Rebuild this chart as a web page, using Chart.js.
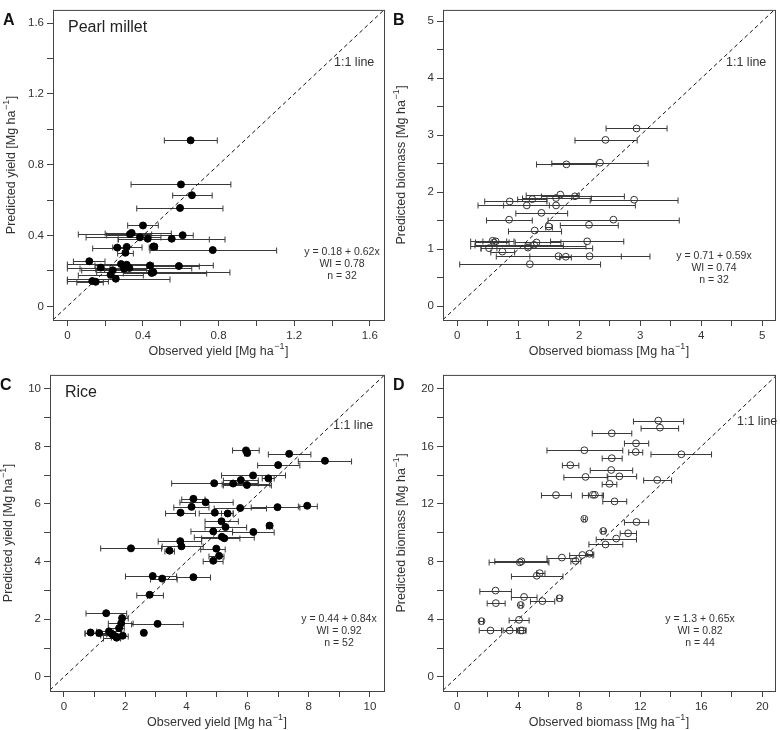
<!DOCTYPE html>
<html>
<head>
<meta charset="utf-8">
<title>Observed vs predicted yield and biomass</title>
<script src="https://cdn.jsdelivr.net/npm/chart.js@4.4.0/dist/chart.umd.min.js"></script>
<style>
  body { margin: 0; background: #fff; }
  #wrap { position: relative; width: 780px; height: 730px; }
  canvas { position: absolute; }
</style>
</head>
<body>
<div id="wrap">
  <canvas id="cA" width="390" height="365" style="left:0;top:0"></canvas>
  <canvas id="cB" width="390" height="365" style="left:390px;top:0"></canvas>
  <canvas id="cC" width="390" height="365" style="left:0;top:365px"></canvas>
  <canvas id="cD" width="390" height="365" style="left:390px;top:365px"></canvas>
</div>
<script>
// === Dados: observado (média), intervalo observado e predito ===

// A - Pearl millet, yield [Mg ha-1]
const aObs  = [0.652, 0.601, 0.659, 0.596, 0.400, 0.331, 0.610, 0.384, 0.425, 0.552, 0.264, 0.314, 0.307, 0.455, 0.460, 0.769,
               0.116, 0.284, 0.314, 0.437, 0.590, 0.177, 0.328, 0.240, 0.300, 0.455, 0.446, 0.229, 0.256, 0.132, 0.150, 0.340];
const aPred = [0.938, 0.689, 0.628, 0.556, 0.457, 0.408, 0.402, 0.390, 0.382, 0.382, 0.332, 0.336, 0.303, 0.338, 0.338, 0.318,
               0.255, 0.239, 0.235, 0.231, 0.228, 0.219, 0.217, 0.204, 0.213, 0.193, 0.189, 0.178, 0.156, 0.143, 0.139, 0.415];
const aLo   = [0.513, 0.337, 0.557, 0.367, 0.319, 0.058, 0.208, 0.099, 0.270, 0.268, 0.134, 0.240, 0.266, 0.433, 0.445, 0.437,
               0.032, 0.000, 0.146, 0.314, 0.437, 0.000, 0.067, 0.076, 0.150, 0.155, 0.296, 0.058, 0.000, 0.000, 0.050, 0.200];
const aHi   = [0.793, 0.865, 0.766, 0.823, 0.481, 0.446, 0.666, 0.495, 0.751, 0.834, 0.319, 0.395, 0.349, 0.474, 0.475, 1.107,
               0.199, 0.437, 0.455, 0.772, 0.698, 0.314, 0.658, 0.437, 0.420, 0.860, 0.737, 0.402, 0.543, 0.217, 0.190, 0.550];
const aTicks  = [0, 0.2, 0.4, 0.6, 0.8, 1, 1.2, 1.4, 1.6];
const aLabels = [0, 0.4, 0.8, 1.2, 1.6];
const aStats  = ["y = 0.18 + 0.62x", "WI = 0.78", "n = 32"];

// B - Pearl millet, biomass [Mg ha-1]
const bObs  = [2.94, 2.43, 1.79, 2.34, 1.69, 1.93, 2.90, 0.86, 1.23, 1.62, 1.14, 1.62, 1.38, 0.85, 2.56, 2.16,
               1.50, 1.27, 2.13, 0.58, 0.63, 1.26, 1.16, 1.16, 0.52, 0.74, 1.66, 1.78, 2.17, 1.19, 0.60, 1.30];
const bPred = [3.12, 2.92, 2.49, 2.52, 1.96, 1.93, 1.87, 1.84, 1.88, 1.90, 1.77, 1.77, 1.64, 1.52, 1.52, 1.43,
               1.40, 1.33, 1.14, 1.15, 1.14, 1.08, 1.06, 1.03, 1.02, 0.96, 0.88, 0.87, 0.88, 0.74, 1.12, 1.12];
const bLo   = [2.44, 1.93, 1.30, 1.55, 1.13, 1.38, 2.18, 0.45, 0.99, 1.07, 0.34, 0.76, 0.96, 0.48, 1.49, 1.69,
               1.45, 0.84, 1.53, 0.22, 0.42, 0.29, 0.22, 0.39, 0.39, 0.55, 0.64, 1.68, 1.19, 0.04, 0.30, 0.95];
const bHi   = [3.44, 2.95, 2.28, 3.13, 2.00, 2.74, 3.62, 1.47, 1.47, 2.20, 1.51, 2.92, 1.81, 1.23, 3.64, 2.64,
               1.56, 1.71, 2.73, 0.93, 0.81, 1.74, 2.11, 2.22, 0.65, 0.94, 2.69, 1.87, 3.16, 2.35, 0.85, 1.70];
const bTicks  = [0, 0.5, 1, 1.5, 2, 2.5, 3, 3.5, 4, 4.5, 5];
const bLabels = [0, 1, 2, 3, 4, 5];
const bStats  = ["y = 0.71 + 0.59x", "WI = 0.74", "n = 32"];

// C - Rice, yield [Mg ha-1]
const cObs  = [5.95, 5.99, 7.36, 8.53, 7.00, 6.18, 5.78, 6.68, 4.91, 5.53, 5.98, 4.23, 4.63, 4.17, 3.81, 5.76, 6.98, 7.95,
               4.93, 5.35, 5.15, 6.72, 5.28, 4.88, 6.19, 5.16, 5.24, 3.80, 3.84, 2.19, 3.45, 4.98, 5.07, 4.88, 2.90, 3.21,
               4.23, 2.80, 1.38, 1.90, 1.87, 3.06, 1.80, 0.87, 1.15, 1.47, 1.61, 1.72, 1.92, 2.61, 1.56, 1.70];
const cPred = [7.86, 7.77, 7.74, 7.50, 7.35, 6.99, 6.83, 6.89, 6.72, 6.71, 6.66, 6.18, 6.06, 5.90, 5.70, 5.86, 5.89, 5.94,
               5.70, 5.67, 5.40, 5.25, 5.20, 5.05, 5.03, 4.86, 4.81, 4.71, 4.53, 4.46, 4.38, 4.45, 4.20, 4.03, 3.50, 3.41,
               3.46, 2.85, 2.21, 2.04, 1.86, 1.84, 1.69, 1.54, 1.52, 1.58, 1.45, 1.36, 1.43, 1.53, 1.49, 1.40];
const cLo   = [5.51, 5.90, 6.68, 7.66, 6.33, 5.15, 5.21, 6.48, 3.52, 5.17, 5.21, 3.85, 3.79, 3.59, 3.32, 4.91, 6.12, 7.66,
               4.42, 5.15, 4.61, 6.62, 4.61, 4.15, 5.51, 4.26, 4.50, 3.08, 3.21, 1.20, 3.30, 4.47, 4.74, 4.55, 2.01, 2.83,
               3.68, 2.38, 0.72, 1.84, 1.45, 2.21, 1.45, 0.69, 0.69, 1.07, 1.20, 1.29, 1.84, 2.55, 1.20, 1.55];
const cHi   = [6.38, 6.05, 8.07, 9.40, 7.71, 7.24, 6.35, 6.87, 6.35, 6.73, 6.78, 4.61, 5.53, 4.74, 4.30, 6.62, 7.71, 8.28,
               5.53, 5.53, 5.70, 6.82, 5.97, 5.51, 6.87, 6.22, 5.75, 4.50, 4.55, 3.19, 3.61, 5.27, 5.23, 5.20, 3.68, 3.70,
               4.79, 3.25, 2.05, 2.10, 2.26, 3.90, 1.97, 1.07, 1.61, 1.88, 1.85, 1.85, 2.10, 2.67, 1.95, 1.85];
const cTicks  = [0, 1, 2, 3, 4, 5, 6, 7, 8, 9, 10];
const cLabels = [0, 2, 4, 6, 8, 10];
const cStats  = ["y = 0.44 + 0.84x", "WI = 0.92", "n = 52"];

// D - Rice, biomass [Mg ha-1]
const dObs  = [13.18, 13.29, 10.13, 11.72, 8.33, 11.70, 14.69, 10.13, 7.41, 10.09, 8.41, 10.63, 13.11, 9.98, 6.47, 8.89,
               9.02, 10.31, 8.33, 11.75, 9.57, 11.20, 10.42, 9.72, 8.67, 8.20, 6.86, 7.76, 4.10, 4.21, 5.41, 5.21,
               2.51, 4.38, 5.58, 6.71, 2.53, 4.16, 4.05, 1.59, 2.18, 3.44, 4.27, 4.15];
const dPred = [17.79, 17.30, 16.91, 16.21, 15.73, 15.61, 15.45, 15.18, 14.70, 14.36, 13.88, 13.92, 13.67, 13.40, 12.62, 12.64,
               12.64, 12.18, 10.97, 10.75, 10.13, 9.97, 9.60, 9.19, 8.55, 8.46, 8.28, 8.05, 7.95, 8.02, 7.20, 7.02,
               5.99, 5.55, 5.26, 5.46, 5.12, 4.99, 3.96, 3.87, 3.22, 3.22, 3.22, 3.22];
const dLo   = [11.55, 12.05, 8.85, 10.96, 5.88, 11.24, 12.70, 9.50, 6.89, 8.72, 6.99, 9.83, 12.22, 9.50, 5.52, 8.20,
               8.60, 9.54, 8.25, 10.96, 9.45, 10.68, 9.11, 8.63, 8.46, 7.37, 5.88, 7.45, 2.09, 2.46, 5.20, 3.55,
               1.48, 3.55, 4.80, 6.55, 1.96, 4.05, 3.40, 1.45, 1.44, 3.00, 4.05, 3.90];
const dHi   = [14.84, 14.51, 11.44, 12.55, 10.85, 12.16, 16.67, 10.81, 7.97, 11.50, 9.87, 11.76, 14.05, 10.46, 7.48, 9.59,
               9.50, 11.11, 8.42, 12.55, 9.70, 11.75, 11.75, 10.85, 8.95, 8.89, 7.80, 8.10, 6.01, 5.95, 5.75, 6.93,
               3.55, 5.23, 6.39, 6.85, 3.14, 4.27, 4.71, 1.72, 2.90, 3.90, 4.50, 4.50];
const dTicks  = [0, 2, 4, 6, 8, 10, 12, 14, 16, 18, 20];
const dLabels = [0, 4, 8, 12, 16, 20];
const dStats  = ["y = 1.3 + 0.65x", "WI = 0.82", "n = 44"];

const FONT = "'Liberation Sans', Arial, sans-serif";
const INK = "#333";
const AXIS = "#444";

// === Título de eixo com expoente (Mg ha^-1) ===
function drawUnitTitle(ctx, label, x, y, vertical) {
    const main = label + " [Mg ha";
    const sup = "\u22121";
    ctx.save();
    ctx.translate(x, y);
    if (vertical) ctx.rotate(-Math.PI / 2);
    ctx.fillStyle = INK;
    ctx.textBaseline = "middle";
    ctx.textAlign = "left";
    ctx.font = `12.5px ${FONT}`;
    const w1 = ctx.measureText(main).width;
    const w3 = ctx.measureText("]").width;
    ctx.font = `9px ${FONT}`;
    const w2 = ctx.measureText(sup).width + 1;
    let sx = -(w1 + w2 + w3) / 2;
    ctx.font = `12.5px ${FONT}`;
    ctx.fillText(main, sx, 0);
    ctx.font = `9px ${FONT}`;
    ctx.fillText(sup, sx + w1 + 0.5, -5);
    ctx.font = `12.5px ${FONT}`;
    ctx.fillText("]", sx + w1 + w2, 0);
    ctx.restore();
}

// === Monta um painel ===
function makePanel(p) {
    const canvas = document.getElementById(p.canvas);
    const H = canvas.height;

    // barras de erro horizontais + moldura + textos
    const decor = {
        id: "decor" + p.letter,
        beforeDatasetsDraw(chart) {
            const { ctx, scales: { x, y } } = chart;
            ctx.save();
            ctx.strokeStyle = "#3a3a3a";
            ctx.lineWidth = 1;
            p.lo.forEach((lo, i) => {
                const yp = Math.round(y.getPixelForValue(p.pred[i])) + 0.5;
                const x1 = x.getPixelForValue(lo);
                const x2 = x.getPixelForValue(p.hi[i]);
                ctx.beginPath();
                ctx.moveTo(x1, yp); ctx.lineTo(x2, yp);
                ctx.moveTo(x1, yp - 3); ctx.lineTo(x1, yp + 3);
                ctx.moveTo(x2, yp - 3); ctx.lineTo(x2, yp + 3);
                ctx.stroke();
            });
            ctx.restore();
        },
        afterDraw(chart) {
            const { ctx, chartArea: a } = chart;
            ctx.save();
            ctx.strokeStyle = AXIS;
            ctx.lineWidth = 1;
            ctx.strokeRect(a.left + 0.5, a.top + 0.5, a.right - a.left, a.bottom - a.top);

            ctx.fillStyle = "#111";
            ctx.textBaseline = "middle";
            ctx.textAlign = "left";
            ctx.font = `bold 16px ${FONT}`;
            ctx.fillText(p.letter, a.left - 50, a.top + 11);

            if (p.crop) {
                ctx.fillStyle = "#222";
                ctx.font = `16px ${FONT}`;
                ctx.fillText(p.crop, a.left + 15, a.top + 17.5);
            }

            ctx.fillStyle = INK;
            ctx.font = `12.5px ${FONT}`;
            ctx.fillText("1:1 line", a.right - p.lineDx, a.top + p.lineDy);

            ctx.textAlign = "center";
            ctx.font = `10.5px ${FONT}`;
            p.stats.forEach((s, i) => {
                ctx.fillText(s, a.right - p.eqDx, a.bottom - p.eqDy + i * 12);
            });
            ctx.restore();

            drawUnitTitle(ctx, "Observed " + p.what, (a.left + a.right) / 2, a.bottom + 32, false);
            drawUnitTitle(ctx, "Predicted " + p.what, a.left - 41, (a.top + a.bottom) / 2, true);
        }
    };

    const axis = (min, max, sizeFn) => ({
        type: "linear",
        min: min,
        max: max,
        afterBuildTicks: (s) => { s.ticks = p.ticks.map((v) => ({ value: v })); },
        afterFit: sizeFn,
        grid: { display: true, drawOnChartArea: false, drawTicks: true, tickLength: 6, tickColor: AXIS, color: AXIS },
        border: { display: false },
        ticks: {
            autoSkip: false,
            maxRotation: 0,
            color: INK,
            padding: 3,
            font: { family: FONT, size: 11.5 },
            callback: (v) => (p.labels.includes(v) ? String(v) : "")
        }
    });

    const pts = p.obs.map((v, i) => ({ x: v, y: p.pred[i] }));

    new Chart(canvas, {
        type: "scatter",
        data: {
            datasets: [
                {
                    data: pts,
                    pointRadius: p.filled ? 3.5 : 3.4,
                    borderWidth: 1,
                    pointBackgroundColor: p.filled ? "#000" : "rgba(0,0,0,0)",
                    pointBorderColor: p.filled ? "#000" : "#333",
                    showLine: false
                },
                {
                    type: "line",
                    data: [{ x: p.xMin, y: p.xMin }, { x: p.xMax, y: p.xMax }],
                    borderColor: "#111",
                    borderWidth: 1,
                    borderDash: [4, 3],
                    pointRadius: 0
                }
            ]
        },
        options: {
            responsive: false,
            animation: false,
            devicePixelRatio: 1,
            layout: { padding: { left: 0, right: p.padRight, top: p.top, bottom: 0 } },
            plugins: { legend: { display: false }, tooltip: { enabled: false } },
            scales: {
                x: axis(p.xMin, p.xMax, (s) => { s.height = H - p.bottom; }),
                y: axis(p.yMin, p.yMax, (s) => { s.width = p.left; })
            }
        },
        plugins: [decor]
    });
}

// === Inicialização ===
makePanel({
    canvas: "cA", letter: "A", crop: "Pearl millet", what: "yield", filled: true,
    obs: aObs, pred: aPred, lo: aLo, hi: aHi, ticks: aTicks, labels: aLabels, stats: aStats,
    xMin: -0.076, xMax: 1.675, yMin: -0.077, yMax: 1.675,
    left: 53, padRight: 6, top: 2, bottom: 320,
    lineDx: 50, lineDy: 53, eqDx: 42, eqDy: 68
});
makePanel({
    canvas: "cB", letter: "B", crop: "", what: "biomass", filled: false,
    obs: bObs, pred: bPred, lo: bLo, hi: bHi, ticks: bTicks, labels: bLabels, stats: bStats,
    xMin: -0.234, xMax: 5.21, yMin: -0.24, yMax: 5.2,
    left: 53, padRight: 4, top: 2, bottom: 320,
    lineDx: 49, lineDy: 53, eqDx: 61, eqDy: 64
});
makePanel({
    canvas: "cC", letter: "C", crop: "Rice", what: "yield", filled: true,
    obs: cObs, pred: cPred, lo: cLo, hi: cHi, ticks: cTicks, labels: cLabels, stats: cStats,
    xMin: -0.457, xMax: 10.46, yMin: -0.49, yMax: 10.48,
    left: 50, padRight: 6, top: 6, bottom: 326,
    lineDx: 51, lineDy: 51, eqDx: 45, eqDy: 72
});
makePanel({
    canvas: "cD", letter: "D", crop: "", what: "biomass", filled: false,
    obs: dObs, pred: dPred, lo: dLo, hi: dHi, ticks: dTicks, labels: dLabels, stats: dStats,
    xMin: -0.935, xMax: 20.83, yMin: -0.98, yMax: 20.96,
    left: 53, padRight: 4, top: 6, bottom: 326,
    lineDx: 38, lineDy: 47, eqDx: 75, eqDy: 72
});
</script>
</body>
</html>
